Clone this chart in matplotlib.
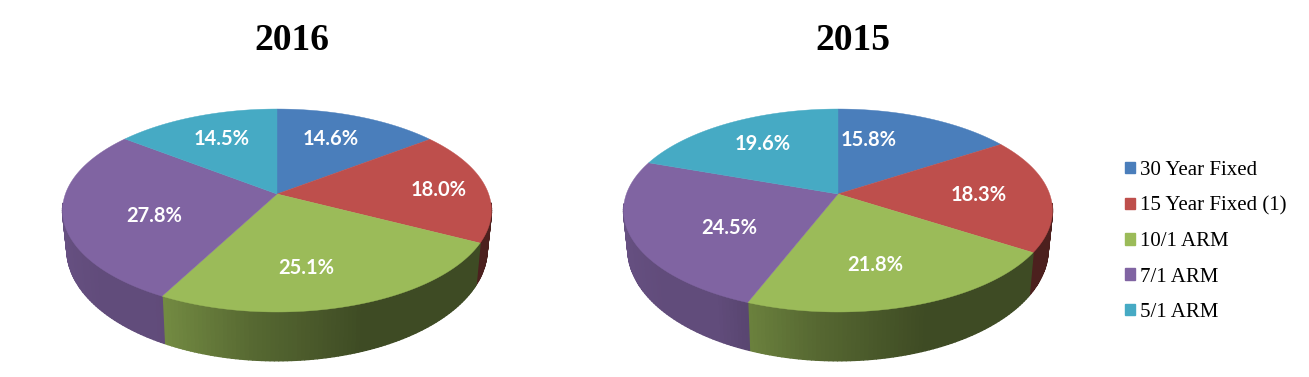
import numpy as np
import matplotlib
matplotlib.use("Agg")
import matplotlib.pyplot as plt
from matplotlib.collections import PolyCollection
from matplotlib.patches import Patch, Polygon

categories = ["30 Year Fixed", "15 Year Fixed (1)", "10/1 ARM", "7/1 ARM", "5/1 ARM"]
values_2016 = [14.6, 18.0, 25.1, 27.8, 14.5]
values_2015 = [15.8, 18.3, 21.8, 24.5, 19.6]
colors = ["#4A7EBB", "#BE4F4C", "#9BBB59", "#8064A2", "#46AAC4"]

# label nudges (px) from each slice's mid-angle anchor
nudge_2016 = [(-6, 1), (16, 2), (-21, 0), (26, 7), (4, 1)]
nudge_2015 = [(-33, 1), (-7, 1), (-14, -3), (33, 4), (3, 2)]

K, A, B = 0.1626, 211.6, 98.8
HUB_Y = 194
SHADE_U = [-1.0, -0.75, -0.5, -0.1, 0.35, 1.0]
SHADE_V = [0.80, 0.76, 0.76, 0.56, 0.40, 0.40]


def rim(theta, r=1.0):
    """Perspective projection of a point on the disc; theta clockwise from top (rad)."""
    u, v = r * np.sin(theta), r * np.cos(theta)
    d = 1 + K * v
    return A * u / d, B * v / d, u


def draw_pie(ax, hub_x, values, nudges):
    edges = np.radians(np.concatenate([[0], np.cumsum(values)]) / np.sum(values) * 360)
    for i, col in enumerate(colors):
        polys, faces = [], []
        ts = np.linspace(edges[i], edges[i + 1], max(int(np.degrees(edges[i + 1] - edges[i])), 2) + 1)
        X, Y, U = rim(ts)
        xt, yt = hub_x + X, HUB_Y - Y
        xb, yb = hub_x + 0.98 * X, HUB_Y + 37 - 1.1 * Y
        base = np.array(matplotlib.colors.to_rgb(col))
        for j in range(len(ts) - 1):
            if np.cos(ts[j]) > -0.1 and np.cos(ts[j + 1]) > -0.1:
                continue
            polys.append([(xt[j], yt[j]), (xt[j + 1], yt[j + 1]), (xb[j + 1], yb[j + 1]), (xb[j], yb[j])])
            faces.append(base * np.interp((U[j] + U[j + 1]) / 2, SHADE_U, SHADE_V))
        if polys:
            ax.add_collection(PolyCollection(polys, facecolors=faces, edgecolors=faces, linewidths=1.0))

    for i, col in enumerate(colors):
        ts = np.linspace(edges[i], edges[i + 1], 120)
        X, Y, _ = rim(ts)
        pts = np.column_stack([np.r_[hub_x, hub_x + X], np.r_[HUB_Y, HUB_Y - Y]])
        ax.add_patch(Polygon(pts, closed=True, facecolor=col, edgecolor=col, linewidth=0.3))
        X, Y, _ = rim((edges[i] + edges[i + 1]) / 2, 0.7)
        ax.text(hub_x + X + nudges[i][0], HUB_Y - Y + nudges[i][1], f"{values[i]:.1f}%",
                color="white", fontsize=14.5, fontweight="bold", family="Lato",
                ha="center", va="center")


fig = plt.figure(figsize=(13.09, 3.77), dpi=100, facecolor="white")
ax = fig.add_axes([0, 0, 1, 1])
ax.set_xlim(0, 1309)
ax.set_ylim(377, 0)
ax.axis("off")

draw_pie(ax, 277, values_2016, nudge_2016)
draw_pie(ax, 838, values_2015, nudge_2015)

for x, title in ((292, "2016"), (852.5, "2015")):
    ax.text(x, 41, title, fontsize=27, fontweight="bold", family="Liberation Serif",
            ha="center", va="center", color="black")

handles = [Patch(facecolor=c, edgecolor=c) for c in colors]
ax.legend(handles, categories, loc="upper left", bbox_to_anchor=(1125 / 1309, 1 - 161 / 377),
          frameon=False, prop={"family": "Liberation Serif", "size": 15},
          handlelength=0.48, handleheight=0.48, handletextpad=0.24,
          labelspacing=0.79, borderpad=0, borderaxespad=0)

fig.savefig("out.png", dpi=100, facecolor="white")
